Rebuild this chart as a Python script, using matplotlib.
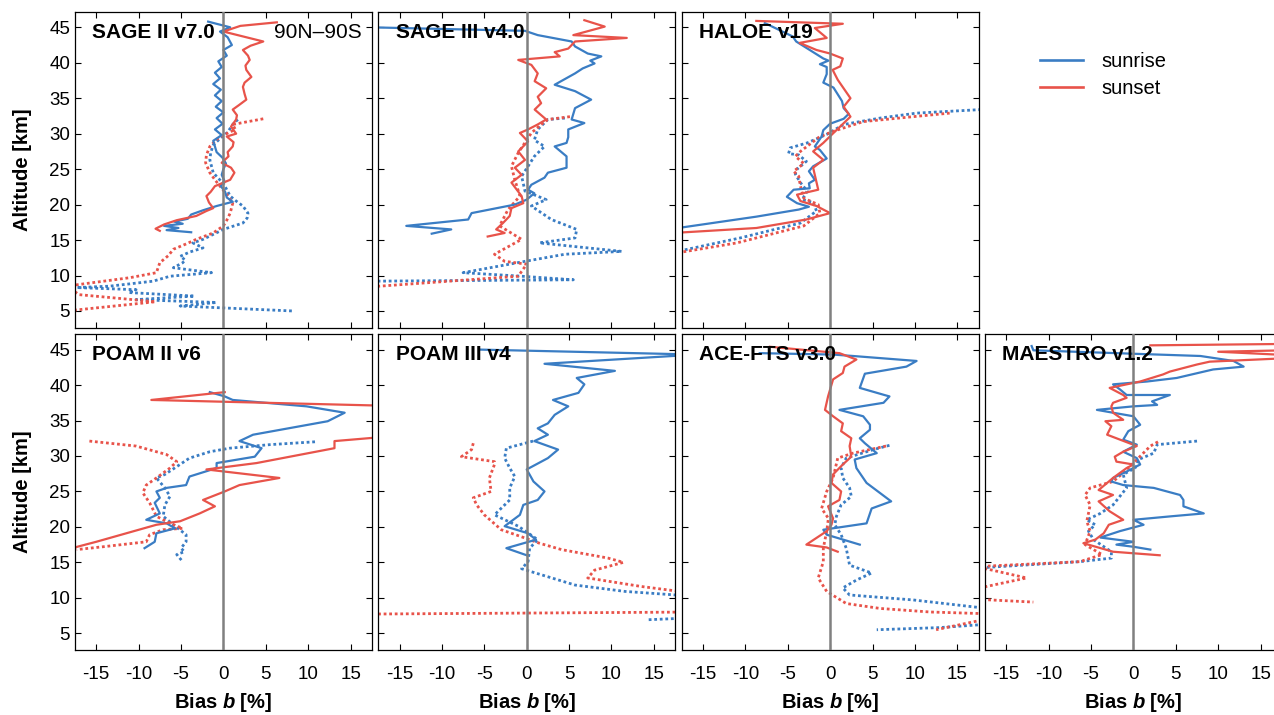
import matplotlib
matplotlib.use('Agg')
import matplotlib.pyplot as plt
from matplotlib.lines import Line2D

plt.rcParams['font.family'] = ['Liberation Sans', 'DejaVu Sans']
plt.rcParams['axes.unicode_minus'] = False
plt.rcParams['mathtext.fontset'] = 'custom'
plt.rcParams['mathtext.rm'] = 'Liberation Sans:bold'
plt.rcParams['mathtext.it'] = 'Liberation Sans:italic:bold'

BLUE = '#3A7DC4'
RED = '#E8534A'
GREY = '#808080'

titles = ['SAGE II v7.0', 'SAGE III v4.0', 'HALOE v19',
          'POAM II v6', 'POAM III v4', 'ACE-FTS v3.0', 'MAESTRO v1.2']
region_label = '90N\u201390S'
legend_labels = ['sunrise', 'sunset']
x_ticks = [-15, -10, -5, 0, 5, 10, 15]
y_ticks = [5, 10, 15, 20, 25, 30, 35, 40, 45]
zero_bias = 0

# ---------------- SAGE II v7.0 ----------------
sage2_sr_alt = [45.8, 45.0, 44.4, 43.6, 42.5, 41.8, 41.0, 40.2, 39.4, 38.6, 37.8, 37.0, 36.2, 35.4, 34.6,
                33.8, 33.0, 32.2, 31.4, 30.6, 29.8, 29.0, 28.2, 27.4, 26.6, 25.8, 25.0, 24.2, 23.4, 22.6,
                21.8, 21.0, 20.4, 19.8, 19.2, 18.6, 18.0, 17.6, 17.3, 17.0, 16.7, 16.4, 16.1]
sage2_sr_b = [-1.8, 0.8, -0.4, 0.5, 1.0, 0.0, 0.4, -0.6, -0.2, -1.0, -0.4, -1.2, -0.3, -1.0, -0.2,
              -0.9, 0.0, -0.8, -0.1, -1.0, -0.2, -1.2, -1.0, -0.8, -0.1, 0.3, 0.0, -0.2, 0.1, -0.3,
              0.2, 0.4, 1.1, -0.8, -2.4, -3.8, -4.2, -5.8, -4.8, -7.0, -5.3, -6.7, -3.8]
sage2_ss_alt = [45.7, 45.2, 44.4, 43.0, 42.4, 41.8, 41.0, 40.4, 39.6, 39.0, 38.0, 37.2, 36.6, 35.6, 34.8,
                34.0, 33.4, 32.6, 32.0, 31.0, 30.0, 29.6, 28.8, 28.2, 27.4, 26.8, 25.9, 25.2, 24.5, 23.5,
                22.6, 21.8, 21.2, 20.3, 19.5, 19.1, 18.4, 17.8, 17.2, 16.6, 16.3]
sage2_ss_b = [6.3, 2.0, 0.0, 4.7, 3.2, 2.3, 2.9, 3.1, 2.6, 2.7, 3.3, 2.5, 2.3, 2.5, 2.7,
              1.8, 1.1, 1.6, 1.5, 0.9, 1.5, 0.4, 1.2, 1.1, 0.5, 0.6, -0.2, 0.9, 1.3, 0.8,
              -1.0, -1.5, -2.0, -1.7, -1.2, -2.0, -3.2, -5.5, -7.0, -8.0, -7.5]
sage2_sr_dot_alt = [32.0, 31.3, 30.2, 29.3, 28.4, 27.3, 26.3, 25.4, 24.5, 23.7, 23.0, 22.1, 21.2, 20.5,
                    19.8, 18.8, 18.1, 17.4, 16.9, 16.5, 15.8, 15.1, 14.6, 13.9, 13.3, 12.7, 12.2, 11.8,
                    11.1, 10.4, 9.9, 9.2, 8.5, 8.3, 8.0, 7.6, 7.1, 6.6, 6.2, 5.7, 5.0]
sage2_sr_dot_b = [1.7, 1.1, 0.5, -0.4, -1.2, -1.5, -1.6, -1.4, -1.2, -0.6, 0.0, 0.4, 0.8, 1.5,
                  2.3, 2.9, 2.8, 2.3, 1.0, 0.0, -1.2, -2.4, -3.6, -2.4, -4.0, -5.1, -4.5, -4.8,
                  -5.9, -1.4, -6.3, -8.3, -13.4, -17.3, -10.3, -11.2, -3.4, -10.3, -0.8, -5.1, 8.2]
sage2_ss_dot_alt = [32.1, 31.3, 30.6, 29.5, 28.2, 27.0, 25.9, 24.5, 23.5, 22.6, 21.4, 20.2, 18.8, 17.8,
                    17.0, 16.0, 15.1, 14.4, 13.7, 12.8, 11.8, 11.1, 10.4, 9.7, 8.5, 7.3, 6.3, 5.0]
sage2_ss_dot_b = [4.7, 1.1, 1.4, -0.5, -1.6, -2.0, -2.1, -1.6, -1.0, -0.4, 0.4, 1.1, 0.8, 0.4,
                  0.0, -1.2, -3.2, -4.5, -5.9, -6.5, -7.5, -7.7, -7.9, -11.0, -18.5, -17.0, -8.0, -18.5]

# ---------------- SAGE III v4.0 ----------------
sage3_sr_alt = [45.0, 44.5, 43.9, 43.0, 42.3, 41.3, 40.9, 40.3, 39.9, 39.2, 38.5, 36.9, 36.0, 34.8, 33.6,
                32.0, 31.5, 30.6, 29.5, 28.7, 28.2, 26.8, 25.2, 24.5, 23.8, 22.8, 22.1, 21.6, 20.7, 20.0,
                18.8, 17.9, 17.0, 16.5, 15.9]
sage3_sr_b = [-18.5, -0.2, 1.3, 5.3, 5.7, 7.2, 8.8, 7.5, 8.0, 6.6, 5.7, 3.3, 5.7, 7.6, 5.7,
              5.3, 6.8, 4.9, 4.9, 4.7, 3.3, 4.7, 4.7, 2.5, 2.1, 0.55, 0.16, 0.9, 0.0, -1.4,
              -6.5, -6.9, -14.2, -8.9, -11.2]
sage3_ss_alt = [46.0, 45.1, 43.9, 43.5, 43.0, 42.0, 41.5, 40.9, 40.4, 39.7, 38.5, 37.4, 36.4, 35.2, 34.3,
                33.4, 32.0, 31.3, 30.6, 30.1, 28.9, 27.5, 26.3, 25.2, 24.2, 23.1, 21.2, 20.2, 19.5, 18.4,
                17.4, 16.5, 16.0, 15.5]
sage3_ss_b = [6.8, 9.2, 5.5, 11.8, 5.7, 4.9, 3.3, 3.9, -1.0, 0.55, 1.3, 0.94, 2.3, 1.3, 1.7,
              0.94, 2.3, 1.3, 0.16, -0.8, 0.16, -1.0, -0.2, -1.4, -0.6, -1.8, -0.6, -0.4, -1.8, -2.0,
              -2.8, -3.6, -2.6, -4.6]
sage3_sr_dot_alt = [32.2, 32.0, 30.6, 29.1, 28.2, 26.8, 25.4, 24.0, 21.9, 20.7, 19.8, 17.9, 16.5, 15.3,
                    14.6, 13.4, 13.0, 12.0, 10.4, 9.9, 9.4, 9.2]
sage3_sr_dot_b = [4.5, 2.5, 1.3, 0.9, 2.1, 0.9, 0.16, -0.6, -0.2, 2.3, 0.55, 2.9, 5.9, 5.7,
                  1.5, 11.2, 4.5, -0.2, -7.5, -0.6, 5.5, -18.5]
sage3_ss_dot_alt = [32.4, 32.0, 31.3, 30.1, 27.3, 25.4, 23.5, 21.2, 19.3, 17.0, 15.1, 13.0, 12.0, 11.6,
                    9.9, 8.4]
sage3_ss_dot_b = [5.1, 2.5, 1.7, 0.55, -1.0, -1.8, -1.4, -0.8, -2.2, -3.2, -0.6, -3.8, -2.6, 0.0,
                  -1.0, -18.5]

# ---------------- HALOE v19 ----------------
haloe_sr_alt = [45.6, 43.7, 43.0, 40.6, 40.3, 39.8, 39.4, 38.4, 37.2, 36.5, 34.6, 33.6, 32.8, 32.1, 31.4,
                30.5, 29.6, 28.2, 27.7, 26.5, 25.4, 24.7, 23.5, 23.0, 22.3, 22.1, 21.1, 20.2, 19.7, 19.3,
                18.3, 16.6]
haloe_sr_b = [-7.7, -4.4, -4.0, -0.8, -0.2, -1.2, -0.4, -0.4, -0.8, 0.4, 1.4, 1.6, 2.2, 1.6, 0.0,
              -0.8, -1.0, -1.8, -1.2, -0.4, -2.0, -2.5, -1.8, -2.5, -2.4, -4.3, -5.1, -3.9, -2.5, -3.7,
              -8.7, -18.5]
haloe_ss_alt = [45.9, 45.5, 44.9, 43.5, 42.8, 41.8, 41.3, 40.6, 39.5, 39.0, 37.6, 35.0, 33.8, 32.4, 30.1,
                28.7, 27.5, 26.3, 25.2, 22.1, 21.4, 20.5, 19.8, 18.8, 17.9, 16.7, 16.0]
haloe_ss_b = [-8.7, 1.5, -1.8, -0.4, -3.6, -1.6, 0.0, 1.5, 1.2, 0.3, 0.9, 2.4, 1.6, 2.4, 0.4,
              -0.8, -2.0, -0.8, -2.0, -1.4, -3.9, -3.5, -1.6, 0.0, -2.8, -8.7, -18.5]
haloe_sr_dot_alt = [33.4, 32.9, 32.2, 31.3, 29.9, 28.7, 28.0, 27.2, 27.0, 26.1, 25.0, 24.3, 23.1, 21.9,
                    20.7, 20.3, 19.1, 17.4, 15.3, 13.4]
haloe_sr_dot_b = [17.8, 10.2, 5.9, 1.6, -0.4, -2.7, -4.7, -4.9, -3.7, -2.8, -3.9, -4.1, -3.5, -2.7,
                  -3.3, -2.0, -1.6, -3.5, -10.6, -18.0]
haloe_ss_dot_alt = [32.9, 32.4, 31.7, 30.5, 29.6, 27.5, 26.8, 25.8, 24.7, 24.0, 22.6, 20.9, 20.0, 18.8,
                    17.0, 14.6, 13.2]
haloe_ss_dot_b = [14.1, 9.8, 3.9, 0.8, -1.2, -3.5, -4.1, -3.1, -4.3, -3.7, -3.5, -3.1, -1.4, -1.2,
                  -3.1, -11.0, -18.0]

# ---------------- POAM II v6 ----------------
poam2_sr_alt = [39.0, 38.4, 37.9, 37.0, 36.1, 34.9, 33.0, 32.1, 31.1, 29.9, 29.0, 28.3, 27.1, 25.9, 25.5,
                25.0, 24.1, 23.4, 21.9, 21.0, 20.5, 19.8, 19.1, 17.9, 17.0]
poam2_sr_b = [-1.6, 0.16, 1.1, 9.8, 14.3, 12.3, 3.5, 1.9, 4.5, 3.7, -0.8, -0.8, -4.0, -4.4, -6.7,
              -7.9, -7.5, -8.1, -7.5, -9.1, -6.7, -5.7, -7.9, -8.1, -9.3]
poam2_ss_alt = [39.0, 37.9, 37.0, 33.0, 32.1, 31.1, 29.0, 28.1, 26.9, 25.9, 25.0, 23.8, 22.9, 21.9, 20.8,
                20.3, 17.9, 16.8]
poam2_ss_b = [0.16, -8.5, 22.0, 22.0, 13.1, 13.1, 3.9, -2.0, 6.6, 1.9, 0.16, -2.4, -1.0, -2.8, -5.1,
              -7.9, -15.0, -18.5]
poam2_sr_dot_alt = [32.0, 31.6, 31.1, 30.6, 29.7, 28.5, 27.4, 26.9, 25.5, 24.3, 23.1, 21.5, 20.3, 18.9,
                    17.9, 17.0, 16.5, 16.1, 15.1]
poam2_sr_dot_b = [10.8, 5.5, 0.75, -1.6, -4.0, -5.5, -6.9, -7.9, -6.9, -6.3, -6.9, -7.1, -5.9, -4.4,
                  -4.4, -5.0, -4.6, -5.5, -4.8]
poam2_ss_dot_alt = [32.1, 31.4, 30.2, 29.2, 28.3, 26.9, 25.9, 24.8, 23.4, 21.5, 20.5, 19.8, 19.6, 18.9,
                    17.9, 17.2, 16.8]
poam2_ss_dot_b = [-15.8, -10.3, -6.7, -5.5, -6.3, -7.9, -9.1, -9.5, -8.7, -7.9, -6.3, -4.8, -7.1, -8.7,
                  -9.1, -14.2, -17.3]

# ---------------- POAM III v4 ----------------
poam3_sr_alt = [45.0, 44.3, 43.0, 42.0, 41.0, 40.1, 38.9, 37.9, 37.0, 35.8, 34.6, 33.9, 33.0, 32.1, 30.9,
                29.7, 28.1, 26.4, 25.0, 23.8, 23.1, 21.7, 20.1, 19.1, 18.2, 17.0, 16.0]
poam3_sr_b = [-5.5, 20.0, 2.1, 10.4, 5.9, 6.8, 6.1, 3.1, 4.9, 3.3, 2.5, 1.3, 2.5, 0.9, 3.7,
              2.5, 0.0, 0.8, 2.1, 1.3, -0.4, -0.8, -2.6, 0.16, 1.1, -2.4, 0.0]
poam3_sr_dot_alt = [32.1, 31.1, 29.7, 28.3, 27.1, 25.5, 23.8, 21.7, 20.1, 18.2, 17.0, 15.1, 14.1, 11.8,
                    10.9, 10.2, 7.2, 6.9]
poam3_sr_dot_b = [0.75, -2.4, -2.6, -2.0, -1.4, -2.0, -2.0, -3.8, -1.0, 1.3, 0.35, 0.16, -0.6, 5.7,
                  11.6, 20.0, 20.0, 14.1]
poam3_ss_dot_alt = [31.8, 30.9, 29.9, 29.2, 28.8, 26.9, 25.0, 24.1, 23.1, 21.7, 19.6, 18.6, 17.7, 16.8,
                    15.6, 15.0, 13.9, 12.8, 11.6, 10.6, 8.0, 7.7]
poam3_ss_dot_b = [-6.3, -6.5, -7.7, -3.8, -3.8, -4.4, -4.2, -6.3, -5.9, -5.0, -3.0, -0.6, 1.5, 4.1,
                  9.6, 11.4, 8.0, 7.2, 13.5, 20.0, 20.0, -20.0]

# ---------------- ACE-FTS v3.0 ----------------
ace_sr_alt = [44.5, 44.3, 44.1, 43.4, 42.6, 41.6, 39.6, 38.6, 38.4, 37.5, 36.5, 35.6, 34.4, 33.7, 32.5,
              31.8, 30.4, 29.5, 28.3, 26.9, 26.2, 23.6, 22.6, 20.5, 19.6, 18.9, 17.5]
ace_sr_b = [-8.3, 0.35, 2.7, 10.2, 9.0, 4.1, 3.5, 6.4, 7.0, 6.3, 1.1, 3.9, 4.7, 4.7, 3.5,
            4.1, 5.5, 2.9, 3.1, 3.9, 4.3, 7.2, 4.9, 4.3, -0.8, -0.4, 3.5]
ace_ss_alt = [45.4, 44.5, 43.6, 42.6, 41.7, 40.8, 38.4, 36.5, 35.6, 34.6, 33.5, 32.5, 31.4, 29.9, 28.8,
              27.4, 26.2, 25.0, 23.8, 22.9, 21.2, 20.3, 19.4, 17.5, 17.1, 16.5]
ace_ss_b = [-7.1, 1.1, 3.1, 1.7, 1.5, 0.35, -0.24, -0.6, 0.35, 1.5, 1.3, 2.5, 2.3, 2.5, 1.5,
            0.35, 0.16, 1.3, 1.1, -0.24, 0.35, 0.16, -0.4, -2.8, -0.4, 0.9]
ace_sr_dot_alt = [31.5, 30.9, 29.7, 28.3, 26.9, 25.5, 24.3, 23.1, 21.5, 20.3, 18.9, 17.0, 14.6, 13.5,
                  12.5, 11.4, 10.4, 9.7, 8.3, 6.4, 5.8, 5.5]
ace_sr_dot_b = [7.0, 5.1, 1.9, 1.3, 1.5, 2.3, 2.5, 1.3, 0.75, 0.55, 1.3, 1.9, 2.3, 4.9,
                3.1, 1.5, 2.3, 9.8, 20.0, 20.0, 12.9, 5.5]
ace_ss_dot_alt = [31.4, 30.4, 29.7, 26.9, 25.0, 22.6, 21.2, 19.4, 17.0, 15.1, 12.8, 10.9, 9.2, 8.5,
                  8.0, 7.7, 7.4, 5.5]
ace_ss_dot_b = [6.6, 2.7, 0.9, 0.35, -0.4, -1.0, -0.2, -0.4, -0.8, -0.8, -1.4, -0.4, 1.9, 5.9,
                11.8, 20.0, 20.0, 12.5]

# ---------------- MAESTRO v1.2 ----------------
maestro_sr_alt = [45.5, 44.9, 44.4, 44.1, 43.4, 42.6, 42.2, 41.0, 40.5, 40.1, 39.4, 38.6, 38.6, 37.7, 37.2,
                  37.0, 36.5, 36.1, 35.6, 34.4, 33.5, 32.3, 31.6, 30.6, 29.7, 28.8, 27.8, 26.9, 26.4, 25.9,
                  25.5, 24.5, 23.8, 22.9, 21.9, 21.5, 21.0, 20.3, 19.4, 18.5, 17.9, 17.5, 17.2, 16.8]
maestro_sr_b = [-12.0, -11.8, 0.4, 7.9, 11.8, 13.0, 9.4, 5.1, 1.6, -2.4, -1.6, -0.8, 4.3, 2.2, 2.8,
                0.0, -4.3, -2.4, 0.0, 0.8, -0.6, -1.2, 0.4, -1.2, 0.4, 0.8, -0.8, -2.4, -2.6, -1.2,
                2.4, 5.5, 5.9, 5.9, 8.3, 4.5, 0.0, 1.2, -1.6, -3.9, 0.0, -2.0, 0.0, 2.0]
maestro_ss_alt = [45.6, 45.85, 45.0, 44.7, 44.0, 43.3, 42.9, 41.9, 41.5, 40.5, 39.6, 38.6, 38.2, 37.5, 37.0,
                  36.1, 35.1, 34.9, 34.2, 33.0, 31.4, 30.6, 29.9, 29.2, 28.8, 28.3, 26.9, 25.2, 24.5, 23.6,
                  22.2, 21.0, 20.3, 19.1, 18.2, 17.7, 16.5, 16.0]
maestro_ss_b = [2.0, 22.0, 22.0, 10.0, 22.0, 9.0, 7.5, 4.3, 3.5, 0.8, -2.8, -1.2, -0.8, -2.4, -2.6,
                -2.4, -1.2, -3.3, -2.6, -3.1, 0.4, -1.2, -2.2, -2.0, 0.0, -0.8, -2.4, -4.1, -2.4, -4.1,
                -2.8, -1.2, -2.9, -3.5, -4.5, -5.9, -2.4, 3.1]
maestro_sr_dot_alt = [32.1, 31.6, 30.4, 29.5, 28.3, 27.4, 25.5, 23.1, 21.9, 21.0, 20.3, 19.4, 18.2, 16.5,
                      15.6, 15.1, 14.2]
maestro_sr_dot_b = [7.5, 2.8, 2.4, 0.6, 0.2, -1.2, -0.8, -2.4, -3.9, -5.5, -4.5, -5.3, -4.7, -2.6,
                    -2.6, -6.3, -18.5]
maestro_ss_dot_alt = [32.0, 31.4, 29.0, 27.6, 26.4, 25.5, 24.5, 23.1, 21.9, 20.8, 19.4, 17.5, 16.1, 15.1,
                      14.4, 12.8, 11.3, 9.8, 9.4]
maestro_ss_dot_b = [2.9, 2.0, 0.0, -1.2, -2.4, -5.1, -5.7, -5.1, -5.3, -5.5, -5.1, -5.7, -3.7, -6.3,
                    -18.5, -12.6, -18.5, -18.5, -11.8]

# curves per panel: (alt, bias, colour, dotted?)
panel_curves = [
    [(sage2_sr_dot_alt, sage2_sr_dot_b, BLUE, True), (sage2_ss_dot_alt, sage2_ss_dot_b, RED, True),
     (sage2_sr_alt, sage2_sr_b, BLUE, False), (sage2_ss_alt, sage2_ss_b, RED, False)],
    [(sage3_sr_dot_alt, sage3_sr_dot_b, BLUE, True), (sage3_ss_dot_alt, sage3_ss_dot_b, RED, True),
     (sage3_sr_alt, sage3_sr_b, BLUE, False), (sage3_ss_alt, sage3_ss_b, RED, False)],
    [(haloe_sr_dot_alt, haloe_sr_dot_b, BLUE, True), (haloe_ss_dot_alt, haloe_ss_dot_b, RED, True),
     (haloe_sr_alt, haloe_sr_b, BLUE, False), (haloe_ss_alt, haloe_ss_b, RED, False)],
    [(poam2_sr_dot_alt, poam2_sr_dot_b, BLUE, True), (poam2_ss_dot_alt, poam2_ss_dot_b, RED, True),
     (poam2_sr_alt, poam2_sr_b, BLUE, False), (poam2_ss_alt, poam2_ss_b, RED, False)],
    [(poam3_sr_dot_alt, poam3_sr_dot_b, BLUE, True), (poam3_ss_dot_alt, poam3_ss_dot_b, RED, True),
     (poam3_sr_alt, poam3_sr_b, BLUE, False)],
    [(ace_sr_dot_alt, ace_sr_dot_b, BLUE, True), (ace_ss_dot_alt, ace_ss_dot_b, RED, True),
     (ace_sr_alt, ace_sr_b, BLUE, False), (ace_ss_alt, ace_ss_b, RED, False)],
    [(maestro_sr_dot_alt, maestro_sr_dot_b, BLUE, True), (maestro_ss_dot_alt, maestro_ss_dot_b, RED, True),
     (maestro_sr_alt, maestro_sr_b, BLUE, False), (maestro_ss_alt, maestro_ss_b, RED, False)],
]
# grid position (row, col) of each panel
panel_pos = [(0, 0), (0, 1), (0, 2), (1, 0), (1, 1), (1, 2), (1, 3)]

W, H = 1274, 715
fig = plt.figure(figsize=(W / 100, H / 100), dpi=100)

col_left_px = [75, 378.3, 681.7, 985]
panel_w_px = 296.8
row_top_px = [11.7, 334]
panel_h_px = 316.3

for title, curves, (r, c) in zip(titles, panel_curves, panel_pos):
    left = col_left_px[c] / W
    bottom = 1 - (row_top_px[r] + panel_h_px) / H
    ax = fig.add_axes([left, bottom, panel_w_px / W, panel_h_px / H])
    for alt, b, col, dotted in curves:
        if dotted:
            ax.plot(b, alt, color=col, lw=2.0, linestyle=(0, (1.0, 1.0)), dash_capstyle='butt', zorder=2)
        else:
            ax.plot(b, alt, color=col, lw=1.6, zorder=2.5)
    ax.axvline(zero_bias, color=GREY, lw=1.8, zorder=3)
    ax.set_xlim(-17.5, 17.5)
    ax.set_ylim(2.6, 47.2)
    ax.set_xticks(x_ticks)
    ax.set_yticks(y_ticks)
    ax.tick_params(direction='in', top=True, right=True, length=4, width=0.8,
                   labelsize=13.5, colors='black')
    ax.tick_params(axis='x', pad=11)
    for sp in ax.spines.values():
        sp.set_linewidth(0.9)
    ax.text(0.058, 0.935, title, transform=ax.transAxes, fontsize=15,
            fontweight='bold', ha='left', va='center', zorder=5)
    if r == 0 and c == 0:
        ax.text(0.967, 0.935, region_label, transform=ax.transAxes, fontsize=15,
                ha='right', va='center', zorder=5)
    if c == 0:
        ax.set_ylabel('Altitude [km]', fontsize=14.5, fontweight='bold')
        ax.yaxis.set_label_coords(-0.146, 0.5)
    else:
        ax.tick_params(axis='y', labelleft=False)
    if r == 1:
        ax.set_xlabel(r'Bias $\mathit{b}$ [%]', fontsize=14.5, fontweight='bold')
        ax.xaxis.set_label_coords(0.5, -0.13)
    else:
        ax.tick_params(axis='x', labelbottom=False)

handles = [Line2D([], [], color=BLUE, lw=1.9), Line2D([], [], color=RED, lw=1.9)]
fig.legend(handles, legend_labels, loc='upper left', bbox_to_anchor=(1040 / W, 1 - 52.3 / H),
           frameon=False, fontsize=14.5, handlelength=2.15, handletextpad=0.9,
           borderpad=0, borderaxespad=0, labelspacing=0.4)

fig.savefig('out.png', dpi=100)
